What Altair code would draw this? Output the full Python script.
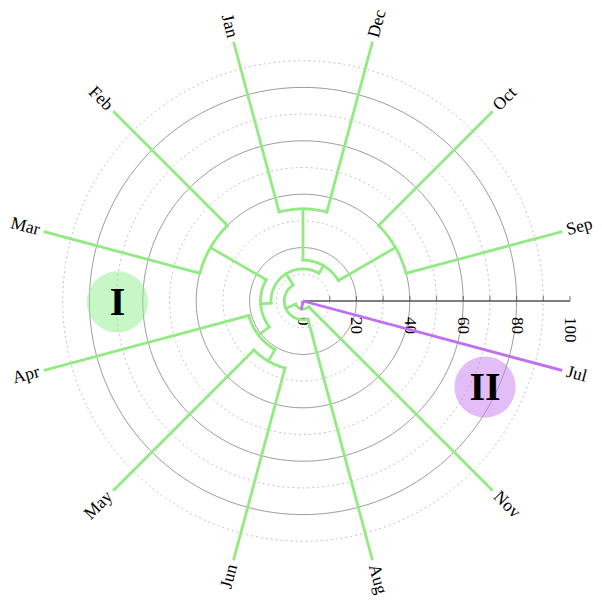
import math
import altair as alt
import pandas as pd

# ---------------- data ----------------
leaf_names = ["Sep", "Oct", "Dec", "Jan", "Feb", "Mar", "Apr", "May", "Jun", "Aug", "Nov", "Jul"]
leaf_radius = 100

# internal nodes of the dendrogram: children and merge radius (axis units)
node_names = ["JD", "OS", "FM", "MJ", "AMJ", "N3", "L", "S", "SA", "CI", "ROOT"]
node_left = ["Dec", "Sep", "Feb", "May", "Apr", "OS", "FM", "N3", "S", "SA", "CI"]
node_right = ["Jan", "Oct", "Mar", "Jun", "MJ", "JD", "AMJ", "L", "Aug", "Nov", "Jul"]
node_radius = [34.5, 40, 40, 26, 21, 15.3, 15.9, 12, 7, 3, 0.5]
node_cluster = ["I", "I", "I", "I", "I", "I", "I", "I", "I", "I", "II"]

grid_solid = [20, 40, 60, 80]
grid_dotted = [10, 30, 50, 70, 90]
axis_ticks = [10, 20, 30, 40, 50, 60, 70, 80, 90, 100]
axis_labels = [0, 20, 40, 60, 80, 100]

cluster_names = ["I", "II"]
cluster_r = [69.5, 75.4]
cluster_theta = [180.3, 334.7]

GREEN = "#92eb82"
PURPLE = "#bf6ff0"

# ---------------- layout helpers ----------------
CX, CY = 295, 293       # centre inside plot area (px)
PX = 2.67               # pixels per axis unit
W, H = 586, 590
xs = alt.Scale(domain=[-CX / PX, (W - CX) / PX], nice=False, zero=False)
ys = alt.Scale(domain=[-(H - CY) / PX, CY / PX], nice=False, zero=False)

step = 360 / len(leaf_names)
theta = {n: step * (i + 0.5) for i, n in enumerate(leaf_names)}
radius = {n: leaf_radius for n in leaf_names}
for n, a, b, r in zip(node_names, node_left, node_right, node_radius):
    theta[n] = (theta[a] + theta[b]) / 2
    radius[n] = r

rows = []
seg = 0
for n, a, b, c in zip(node_names, node_left, node_right, node_cluster):
    rn = radius[n]
    for ch in (a, b):
        seg += 1
        rows.append(dict(seg=seg, k=0, theta=theta[ch], r=radius[ch], grp=c))
        rows.append(dict(seg=seg, k=1, theta=theta[ch], r=rn, grp=c))
    seg += 1
    t0, t1 = sorted([theta[a], theta[b]])
    nstep = max(2, int(math.ceil(t1 - t0)))
    for k in range(nstep + 1):
        rows.append(dict(seg=seg, k=k, theta=t0 + (t1 - t0) * k / nstep, r=rn, grp=c))
links = pd.DataFrame(rows)

grow = []
for kind, rr in (("solid", grid_solid), ("dotted", grid_dotted)):
    for r in rr:
        for k in range(0, 181):
            grow.append(dict(circ=f"{kind}{r}", kind=kind, k=k, theta=2 * k, r=r))
grid = pd.DataFrame(grow)

leaf_df = pd.DataFrame({"name": leaf_names,
                        "theta": [theta[n] for n in leaf_names],
                        "r": [leaf_radius] * len(leaf_names)})
leaf_df["right"] = leaf_df["theta"].apply(lambda t: math.cos(math.radians(t)) > 0)
leaf_df["ang"] = leaf_df.apply(
    lambda d: (-d["theta"]) % 360 if d["right"] else (180 - d["theta"]) % 360, axis=1)

axis_df = pd.DataFrame({"theta": [0, 0], "r": [0, leaf_radius], "k": [0, 1]})
tick_df = pd.DataFrame({"theta": [0] * len(axis_ticks), "r": axis_ticks})
tlab_df = pd.DataFrame({"theta": [0] * len(axis_labels), "r": axis_labels,
                        "lab": [str(v) for v in axis_labels]})
clu_df = pd.DataFrame({"name": cluster_names, "r": cluster_r, "theta": cluster_theta})

calc = dict(x="datum.r*cos(datum.theta*PI/180)", y="datum.r*sin(datum.theta*PI/180)")
X = alt.X("x:Q", scale=xs, axis=None)
Y = alt.Y("y:Q", scale=ys, axis=None)
FONT = "Liberation Serif"

grid_solid_l = alt.Chart(grid).transform_filter("datum.kind=='solid'").transform_calculate(**calc).mark_line(
    color="#9c9c9c", strokeWidth=1).encode(x=X, y=Y, detail="circ:N", order="k:Q")
grid_dot_l = alt.Chart(grid).transform_filter("datum.kind=='dotted'").transform_calculate(**calc).mark_line(
    color="#c4c4c4", strokeWidth=1, strokeDash=[2, 3]).encode(x=X, y=Y, detail="circ:N", order="k:Q")

clu_circ = alt.Chart(clu_df).transform_calculate(**calc).mark_circle(size=3750, opacity=0.5).encode(
    x=X, y=Y,
    color=alt.Color("name:N", scale=alt.Scale(domain=["I", "II"], range=["#90ee90", "#c77dee"]), legend=None))
clu_txt = alt.Chart(clu_df).transform_calculate(**calc).mark_text(
    font=FONT, fontSize=40, fontWeight="bold", color="black", align="center", baseline="middle", dy=1).encode(
    x=X, y=Y, text="name:N")

axis_line = alt.Chart(axis_df).transform_calculate(**calc).mark_line(color="#555555", strokeWidth=1.3).encode(
    x=X, y=Y, order="k:Q")
axis_tick = alt.Chart(tick_df).transform_calculate(**calc).mark_tick(
    orient="vertical", size=5, thickness=1.2, color="#555555", yOffset=-2.5).encode(x=X, y=Y)
axis_lab = alt.Chart(tlab_df).transform_calculate(**calc).mark_text(
    font=FONT, fontSize=17, angle=90, align="left", baseline="middle", dx=16, color="black").encode(
    x=X, y=Y, text="lab:N")

link_l = alt.Chart(links).transform_calculate(**calc).mark_line(strokeWidth=2.8, strokeCap="square").encode(
    x=X, y=Y, detail="seg:N", order="k:Q",
    color=alt.Color("grp:N", scale=alt.Scale(domain=["I", "II"], range=[GREEN, PURPLE]), legend=None))

lab_r = alt.Chart(leaf_df).transform_filter("datum.right").transform_calculate(**calc).mark_text(
    font=FONT, fontSize=17.5, align="left", baseline="middle", dx=6, color="black").encode(
    x=X, y=Y, text="name:N", angle=alt.Angle("ang:Q", scale=None))
lab_l = alt.Chart(leaf_df).transform_filter("!datum.right").transform_calculate(**calc).mark_text(
    font=FONT, fontSize=17.5, align="right", baseline="middle", dx=-6, color="black").encode(
    x=X, y=Y, text="name:N", angle=alt.Angle("ang:Q", scale=None))

chart = alt.layer(grid_dot_l, grid_solid_l, clu_circ, axis_line, axis_tick, axis_lab,
                  link_l, clu_txt, lab_r, lab_l).resolve_scale(color="independent").properties(
    width=W, height=H, autosize=alt.AutoSizeParams(type="none"), padding=0
).configure_view(strokeWidth=0)

chart.save("out.html", embed_options={"renderer": "svg", "actions": False})
